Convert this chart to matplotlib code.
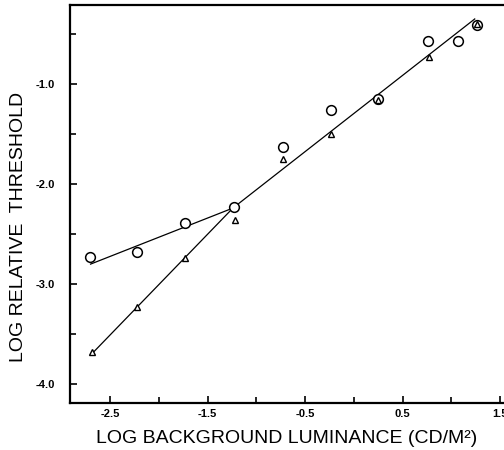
import numpy as np
import matplotlib
matplotlib.use('Agg')
import matplotlib.pyplot as plt
from matplotlib.ticker import FixedLocator

plt.rcParams['font.family'] = ['Liberation Sans', 'DejaVu Sans']

# Data
circ_x = [-2.71, -2.22, -1.73, -1.23, -0.73, -0.23, 0.25, 0.76, 1.07, 1.26]
circ_y = [-2.73, -2.68, -2.39, -2.23, -1.63, -1.26, -1.15, -0.57, -0.57, -0.41]
tri_x = [-2.69, -2.22, -1.73, -1.22, -0.73, -0.23, 0.25, 0.77, 1.26]
tri_y = [-3.68, -3.23, -2.74, -2.36, -1.75, -1.50, -1.16, -0.73, -0.40]

# fitted lines (end points)
circ_fit_x = [-2.70, -1.24]
circ_fit_y = [-2.80, -2.24]
tri_fit_x = [-2.70, -1.24, 1.24]
tri_fit_y = [-3.71, -2.24, -0.35]

xtick_vals = [-2.5, -1.5, -0.5, 0.5, 1.5]
xtick_labels = ['-2.5', '-1.5', '-0.5', '0.5', '1.5']
ytick_vals = [-1.0, -2.0, -3.0, -4.0]
ytick_labels = ['-1.0', '-2.0', '-3.0', '-4.0']

fig = plt.figure(figsize=(5.04, 4.5), dpi=100)
ax = fig.add_axes([0.139, 0.104, 0.861, 0.885])

ax.plot(circ_fit_x, circ_fit_y, color='black', lw=0.9)
ax.plot(tri_fit_x, tri_fit_y, color='black', lw=0.9)
ax.plot(circ_x, circ_y, linestyle='none', marker='o', markersize=7,
        markerfacecolor='white', markeredgecolor='black', markeredgewidth=1.1)
ax.plot(tri_x, tri_y, linestyle='none', marker='^', markersize=5,
        markerfacecolor='white', markeredgecolor='black', markeredgewidth=1.0)

ax.set_xlim(-2.91, 1.54)
ax.set_ylim(-4.19, -0.21)

ax.xaxis.set_major_locator(FixedLocator(xtick_vals))
ax.set_xticklabels(xtick_labels)
ax.xaxis.set_minor_locator(FixedLocator([-2.0, -1.0, 0.0, 1.0]))
ax.yaxis.set_major_locator(FixedLocator(ytick_vals))
ax.set_yticklabels(ytick_labels)
ax.yaxis.set_minor_locator(FixedLocator([-0.5, -1.5, -2.5, -3.5]))

ax.tick_params(which='both', direction='in', width=1.2, top=False, right=False,
               labelsize=8)
ax.tick_params(which='major', length=5)
ax.tick_params(which='minor', length=4)
ax.tick_params(axis='x', which='major', pad=4)
ax.tick_params(axis='y', which='major', pad=11)
for lab in ax.get_xticklabels() + ax.get_yticklabels():
    lab.set_fontweight('bold')

for s in ['left', 'bottom', 'top']:
    ax.spines[s].set_linewidth(1.6)
ax.spines['right'].set_visible(False)

ax.set_xlabel('LOG BACKGROUND LUMINANCE (CD/M\u00b2)', fontsize=14)
ax.set_ylabel('LOG RELATIVE  THRESHOLD', fontsize=14)
ax.xaxis.set_label_coords(0.5, -0.068)
ax.yaxis.set_label_coords(-0.1, 0.442)

plt.savefig('out.png', dpi=100)
plt.clf()
